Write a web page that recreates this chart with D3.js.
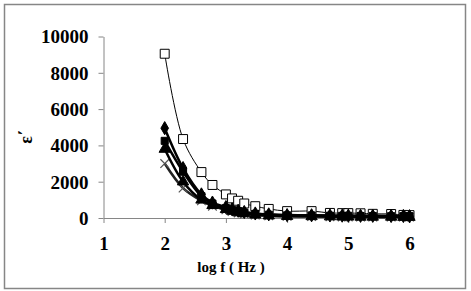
<!DOCTYPE html>
<html>
<head>
<meta charset="utf-8">
<script src="https://cdn.jsdelivr.net/npm/d3@7"></script>
<style>
  html, body { margin: 0; padding: 0; background: #fff; }
  svg text { font-family: "Liberation Serif", "Times New Roman", serif; font-weight: bold; fill: #000; }
</style>
</head>
<body>
<div id="chart"></div>
<script>
// Data (log f in Hz, permittivity values)
const LOG_F = [2, 2.3, 2.6, 2.78, 3, 3.1, 3.2, 3.3, 3.48, 3.7, 4, 4.4, 4.7, 4.9, 5, 5.2, 5.4, 5.7, 5.9, 6];
const OPEN_SQUARE = [9050, 4350, 2530, 1820, 1300, 1080, 950, 800, 650, 500, 380, 380, 280, 270, 270, 260, 230, 220, 170, 160];
const DIAMOND = [4950, 2750, 1300, 850, 600, 480, 400, 330, 250, 200, 160, 150, 140, 130, 130, 120, 120, 110, 110, 100];
const FILLED_SQUARE = [4250, 2550, 1200, 800, 550, 450, 380, 300, 230, 180, 150, 140, 130, 120, 120, 110, 110, 100, 100, 100];
const TRIANGLE = [3800, 2000, 1000, 700, 480, 380, 300, 250, 180, 130, 100, 90, 80, 70, 70, 60, 60, 60, 50, 50];
const CROSS = [3000, 1650, 950, 650, 450, 350, 280, 220, 160, 120, 90, 80, 70, 60, 60, 55, 50, 50, 50, 50];
const X_TICKS = [1, 2, 3, 4, 5, 6];
const Y_TICKS = [0, 2000, 4000, 6000, 8000, 10000];

const W = 471, H = 291;
const AXIS_COLOR = "#868686";

const svg = d3.select("#chart").append("svg")
    .attr("width", W)
    .attr("height", H);

// outer frame
svg.append("rect")
    .attr("x", 4.5).attr("y", 4.5)
    .attr("width", 461).attr("height", 284)
    .attr("fill", "none")
    .attr("stroke", AXIS_COLOR)
    .attr("stroke-width", 1.5);

const x = d3.scaleLinear().domain([1, 6]).range([103.5, 409.5]);
const y = d3.scaleLinear().domain([0, 10000]).range([218, 36.5]);

// Y axis
const yAxis = svg.append("g")
    .attr("transform", `translate(${x(1)},0)`)
    .call(d3.axisLeft(y).tickValues(Y_TICKS).tickFormat(d3.format("d")).tickSize(5).tickSizeOuter(0));
yAxis.select(".domain").attr("stroke", AXIS_COLOR);
yAxis.selectAll(".tick line").attr("stroke", AXIS_COLOR);
yAxis.selectAll(".tick text")
    .style("font-size", "19px")
    .attr("x", -15)
    .attr("dy", "0.34em");

// X axis
const xAxis = svg.append("g")
    .attr("transform", `translate(0,${y(0)})`)
    .call(d3.axisBottom(x).tickValues(X_TICKS).tickFormat(d3.format("d")).tickSize(5).tickSizeOuter(0));
xAxis.select(".domain").attr("stroke", AXIS_COLOR);
xAxis.selectAll(".tick line").attr("stroke", AXIS_COLOR);
xAxis.selectAll(".tick text")
    .style("font-size", "19px")
    .attr("y", 32)
    .attr("dy", 0);

// Axis titles
svg.append("text")
    .attr("x", 231)
    .attr("y", 272)
    .attr("text-anchor", "middle")
    .style("font-size", "15px")
    .text("log f ( Hz )");

svg.append("text")
    .attr("transform", "translate(32,137) rotate(-90)")
    .attr("text-anchor", "middle")
    .style("font-size", "18px")
    .text("ε΄");

const line = d3.line()
    .x(d => x(d[0]))
    .y(d => y(d[1]))
    .curve(d3.curveCatmullRom.alpha(0.5));

const series = [
    { name: "open", values: OPEN_SQUARE, stroke: "#000", width: 1, symbol: d3.symbolSquare, size: 80, fill: "#fff", mstroke: "#000" },
    { name: "cross", values: CROSS, stroke: "#222", width: 2.5, symbol: d3.symbolX, size: 50, fill: "none", mstroke: "#555" },
    { name: "triangle", values: TRIANGLE, stroke: "#000", width: 2.5, symbol: d3.symbolTriangle, size: 55, fill: "#000", mstroke: "#000" },
    { name: "square", values: FILLED_SQUARE, stroke: "#000", width: 2.5, symbol: d3.symbolSquare, size: 50, fill: "#000", mstroke: "#000" },
    { name: "diamond", values: DIAMOND, stroke: "#000", width: 2.5, symbol: d3.symbolDiamond, size: 50, fill: "#000", mstroke: "#000" }
];

series.forEach(s => {
    const pts = LOG_F.map((f, i) => [f, s.values[i]]);
    const g = svg.append("g").attr("class", "series-" + s.name);
    g.append("path")
        .datum(pts)
        .attr("d", line)
        .attr("fill", "none")
        .attr("stroke", s.stroke)
        .attr("stroke-width", s.width);
    g.selectAll("path.mark")
        .data(pts)
        .join("path")
        .attr("class", "mark")
        .attr("transform", d => `translate(${x(d[0])},${y(d[1])})`)
        .attr("d", d3.symbol().type(s.symbol).size(s.size))
        .attr("fill", s.fill)
        .attr("stroke", s.mstroke)
        .attr("stroke-width", s.symbol === d3.symbolX ? 1.2 : 1);
});
</script>
</body>
</html>
